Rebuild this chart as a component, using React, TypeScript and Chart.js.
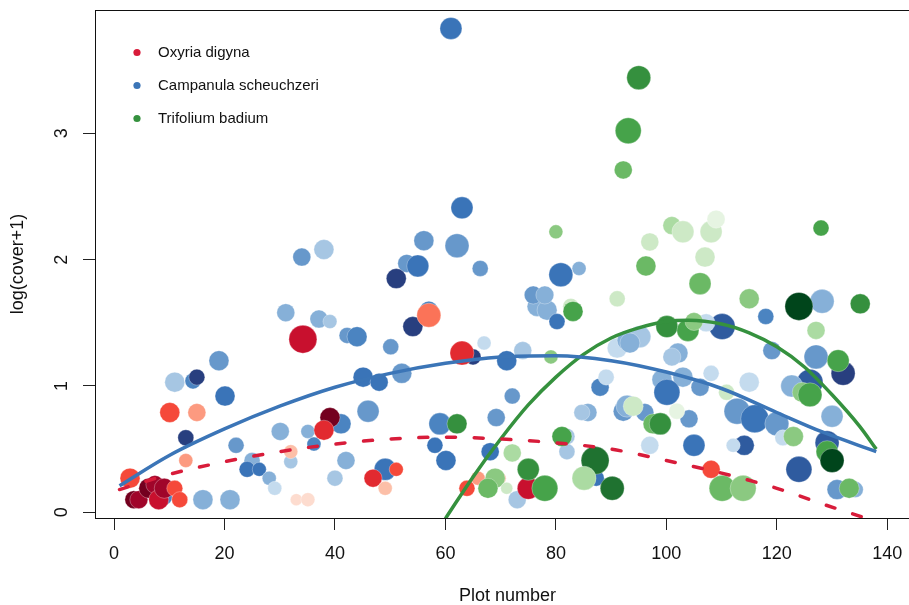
import React, { useEffect, useRef } from "react";
import { Chart, registerables } from "chart.js";

Chart.register(...registerables);

const FONT = "'Liberation Sans', Arial, Helvetica, sans-serif";

// axis ticks & labels
const xTicks = [0, 20, 40, 60, 80, 100, 120, 140];
const yTicks = [0, 1, 2, 3];
const xTitle = "Plot number";
const yTitle = "log(cover+1)";
const speciesNames = ["Oxyria digyna", "Campanula scheuchzeri", "Trifolium badium"];

// ---- Oxyria digyna (points) ----
const oxyriaX = [2.9, 3.6, 4.5, 6.3, 7.4, 8.1, 9.1, 11.0, 11.9, 10.1, 15.0, 13.0, 34.2, 32.0, 33.0, 35.1, 39.1, 38.0, 46.9, 51.1, 49.1, 57.0, 63.0, 63.9, 65.9, 69.9, 75.0, 108.1];
const oxyriaY = [0.27, 0.10, 0.10, 0.19, 0.22, 0.10, 0.19, 0.19, 0.10, 0.79, 0.79, 0.41, 1.37, 0.48, 0.10, 0.10, 0.75, 0.65, 0.27, 0.34, 0.19, 1.56, 1.26, 0.19, 0.27, 0.27, 0.19, 0.34];
const oxyriaSize = [10, 9, 9, 10, 9, 10, 10, 8, 8, 10, 9, 7, 14, 7, 6, 7, 10, 10, 9, 7, 7, 12, 12, 8, 7, 6, 11, 9];
const oxyriaShade = [4, 8, 7, 8, 7, 6, 7, 4, 4, 4, 2, 2, 6, 1, 0, 0, 8, 5, 5, 4, 1, 3, 5, 4, 2, 1, 6, 4];

// ---- Campanula scheuchzeri (points) ----
const campX = [61.0, 63.0, 62.1, 66.3, 34.0, 38.0, 56.1, 53.0, 55.0, 51.1, 31.1, 37.1, 39.1, 57.0, 54.1, 42.2, 44.0, 50.1, 52.1, 45.1, 48.0, 46.0, 41.1, 42.0, 40.0, 19.0, 11.0, 14.3, 15.0, 20.1, 13.0, 22.1, 30.1, 35.1, 36.2, 25.0, 24.1, 26.3, 28.1, 29.1, 32.0, 16.1, 21.0, 65.0, 67.0, 71.1, 74.0, 72.1, 59.0, 58.1, 60.1, 69.2, 68.1, 49.1, 73.0, 82.0, 82.0, 87.3, 76.6, 78.4, 80.2, 88.0, 89.1, 85.8, 84.7, 92.2, 91.1, 92.9, 80.9, 84.2, 75.9, 78.0, 95.2, 93.4, 102.1, 101.0, 110.1, 107.2, 118.0, 128.2, 119.1, 127.1, 132.0, 126.0, 122.7, 115.0, 108.1, 103.0, 99.2, 100.1, 106.1, 92.9, 96.1, 112.8, 116.0, 120.0, 121.1, 130.0, 104.1, 97.0, 105.0, 114.1, 112.1, 129.1, 124.0, 130.9, 134.2, 9.1];
const campY = [3.83, 2.41, 2.11, 1.93, 2.02, 2.08, 2.15, 1.97, 1.95, 1.85, 1.58, 1.53, 1.51, 1.60, 1.47, 1.40, 1.39, 1.31, 1.10, 1.07, 1.03, 0.80, 0.70, 0.41, 0.27, 1.20, 1.03, 1.04, 1.07, 0.92, 0.59, 0.53, 0.64, 0.64, 0.54, 0.41, 0.34, 0.34, 0.27, 0.19, 0.40, 0.10, 0.10, 1.23, 1.34, 1.20, 1.28, 0.92, 0.70, 0.53, 0.41, 0.75, 0.48, 0.34, 0.10, 0.60, 0.48, 0.27, 1.63, 1.60, 1.51, 0.99, 1.07, 0.79, 0.79, 0.80, 1.30, 1.36, 1.88, 1.93, 1.72, 1.72, 1.39, 1.34, 1.26, 1.23, 1.47, 1.50, 1.55, 1.67, 1.28, 1.23, 1.10, 1.03, 1.00, 1.03, 1.10, 1.07, 1.05, 0.95, 0.99, 0.84, 0.79, 0.80, 0.74, 0.70, 0.59, 0.76, 0.74, 0.53, 0.53, 0.53, 0.53, 0.55, 0.34, 0.18, 0.18, 0.12];
const campSize = [11, 11, 12, 8, 9, 10, 10, 9, 11, 10, 9, 9, 7, 9, 10, 8, 10, 8, 10, 10, 9, 11, 10, 9, 8, 10, 10, 8, 8, 10, 8, 8, 9, 7, 7, 8, 8, 7, 7, 7, 7, 10, 10, 8, 7, 10, 9, 8, 11, 8, 10, 9, 9, 11, 9, 8, 8, 8, 10, 10, 8, 9, 8, 9, 8, 10, 10, 10, 12, 7, 9, 9, 11, 10, 10, 9, 13, 9, 8, 12, 9, 12, 12, 13, 11, 10, 8, 10, 10, 13, 9, 11, 9, 13, 14, 12, 8, 11, 9, 9, 11, 10, 7, 12, 13, 10, 8, 8];
const campShade = [5, 5, 3, 3, 3, 1, 3, 3, 5, 7, 2, 2, 1, 4, 7, 3, 4, 3, 3, 5, 5, 3, 4, 2, 1, 3, 1, 4, 7, 5, 7, 3, 2, 2, 4, 2, 5, 5, 2, 0, 1, 2, 2, 7, 0, 5, 1, 3, 4, 5, 5, 3, 5, 5, 1, 1, 1, 5, 2, 2, 5, 4, 0, 2, 1, 3, 0, 2, 5, 2, 3, 2, 1, 2, 2, 1, 6, 0, 4, 2, 3, 3, 7, 6, 2, 0, 0, 2, 2, 5, 3, 2, 3, 3, 5, 3, 0, 2, 3, 0, 5, 6, 0, 6, 6, 3, 2, 4];

// ---- Trifolium badium (points) ----
const trifX = [95.0, 93.1, 92.2, 80.0, 101.0, 103.0, 108.1, 109.0, 97.0, 128.0, 96.3, 107.0, 106.1, 115.0, 91.1, 82.7, 124.0, 135.1, 83.1, 100.1, 103.9, 105.0, 127.1, 131.1, 124.6, 126.0, 110.9, 94.0, 97.6, 98.9, 101.9, 123.0, 129.1, 130.0, 110.1, 113.9, 133.1, 79.1, 62.1, 72.1, 75.0, 78.0, 69.0, 67.7, 71.1, 81.1, 87.1, 85.1, 90.2];
const trifY = [3.44, 3.02, 2.71, 2.22, 2.27, 2.22, 2.22, 2.32, 2.14, 2.25, 1.95, 2.02, 1.81, 1.69, 1.69, 1.63, 1.63, 1.65, 1.59, 1.47, 1.44, 1.51, 1.44, 1.20, 0.95, 0.93, 0.95, 0.84, 0.70, 0.70, 0.80, 0.60, 0.48, 0.41, 0.19, 0.19, 0.19, 1.23, 0.70, 0.47, 0.34, 0.19, 0.27, 0.19, 0.19, 0.60, 0.41, 0.27, 0.19];
const trifSize = [12, 13, 9, 7, 9, 11, 11, 9, 9, 8, 10, 10, 11, 10, 8, 8, 14, 10, 10, 11, 11, 9, 9, 11, 10, 12, 8, 10, 10, 11, 8, 10, 11, 12, 13, 13, 10, 7, 10, 9, 11, 13, 10, 10, 6, 10, 14, 12, 12];
const trifShade = [6, 5, 4, 3, 2, 1, 1, 0, 1, 5, 4, 1, 4, 3, 1, 1, 8, 6, 5, 6, 5, 3, 2, 5, 3, 5, 1, 1, 4, 6, 0, 3, 5, 8, 4, 3, 4, 3, 6, 2, 6, 5, 3, 4, 1, 5, 7, 2, 7];

// ---- fitted curves ----
const oxyriaFitX = [1, 10, 20, 30, 40, 50, 60, 70, 80, 90, 100, 110, 120, 128, 135.3];
const oxyriaFitY = [0.18, 0.30, 0.40, 0.48, 0.54, 0.58, 0.595, 0.58, 0.55, 0.50, 0.41, 0.31, 0.19, 0.07, -0.035];
const campFitX = [1, 10, 20, 30, 40, 50, 60, 70, 80, 90, 100, 110, 120, 128, 138];
const campFitY = [0.21, 0.45, 0.66, 0.84, 0.99, 1.10, 1.18, 1.23, 1.24, 1.20, 1.11, 0.98, 0.79, 0.64, 0.48];
const trifFitX = [60, 65, 70, 75, 80, 85, 90, 95, 100, 104, 110, 115, 120, 125, 130, 135, 138];
const trifFitY = [-0.05, 0.28, 0.58, 0.85, 1.07, 1.25, 1.38, 1.46, 1.51, 1.52, 1.49, 1.42, 1.31, 1.15, 0.93, 0.68, 0.5];

// palettes (styles)
const redShades = ["#fddccf", "#fcbfa8", "#fc9a80", "#fb7358", "#f5493a", "#e22a30", "#c8102e", "#a0052a", "#74001f"];
const blueShades = ["#c4dbee", "#a6c6e3", "#86b0d8", "#6798cb", "#4b84c1", "#3a74b8", "#2f5b9f", "#283f7f"];
const greenShades = ["#e6f4e2", "#cde9c6", "#abdba2", "#8bc981", "#6bb965", "#46a34a", "#35903e", "#1f7230", "#00451b"];
const lineColors = ["#d81c3a", "#3b75b7", "#35913e"];

function pts(xs: number[], ys: number[], rs?: number[]) {
  return xs.map((x, i) => (rs ? { x, y: ys[i], r: rs[i] } : { x, y: ys[i] }));
}

const boxPlugin = {
  id: "rbox",
  afterDatasetsDraw(chart: any) {
    const { ctx, chartArea } = chart;
    ctx.save();
    ctx.strokeStyle = "#111";
    ctx.lineWidth = 1;
    ctx.strokeRect(
      Math.round(chartArea.left) + 0.5,
      Math.round(chartArea.top) + 0.5,
      chartArea.right - chartArea.left,
      chartArea.bottom - chartArea.top
    );
    ctx.restore();
  },
};

const legendPlugin = {
  id: "rlegend",
  afterDraw(chart: any) {
    const { ctx } = chart;
    ctx.save();
    ctx.font = `15px ${FONT}`;
    ctx.textBaseline = "middle";
    ctx.textAlign = "left";
    speciesNames.forEach((name, i) => {
      const y = 52.5 + i * 33;
      ctx.fillStyle = lineColors[i];
      ctx.beginPath();
      ctx.arc(137, y, 3.6, 0, Math.PI * 2);
      ctx.fill();
      ctx.fillStyle = "#111";
      ctx.fillText(name, 158, y);
    });
    ctx.restore();
  },
};

// The R plot region continues past the right edge of the 909px picture,
// so the canvas is slightly wider and cropped by its container.
const CANVAS_W = 920;
const CANVAS_H = 605;

export default function App() {
  const ref = useRef<HTMLCanvasElement>(null);

  useEffect(() => {
    const canvas = ref.current!;
    const bubbleBase = {
      borderColor: "rgba(255,255,255,0.5)",
      borderWidth: 0.6,
      hoverRadius: 0,
    };
    const chart = new Chart(canvas, {
      type: "bubble",
      data: {
        datasets: [
          {
            type: "line",
            label: speciesNames[0] + " fit",
            data: pts(oxyriaFitX, oxyriaFitY),
            borderColor: lineColors[0],
            borderWidth: 3.5,
            borderDash: [9, 18.7],
            borderCapStyle: "round",
            pointRadius: 0,
            cubicInterpolationMode: "monotone",
            order: 0,
          } as any,
          {
            type: "line",
            label: speciesNames[1] + " fit",
            data: pts(campFitX, campFitY),
            borderColor: lineColors[1],
            borderWidth: 3.5,
            pointRadius: 0,
            cubicInterpolationMode: "monotone",
            order: 0,
          } as any,
          {
            type: "line",
            label: speciesNames[2] + " fit",
            data: pts(trifFitX, trifFitY),
            borderColor: lineColors[2],
            borderWidth: 3.5,
            pointRadius: 0,
            cubicInterpolationMode: "monotone",
            order: 0,
          } as any,
          {
            label: speciesNames[2],
            data: pts(trifX, trifY, trifSize),
            backgroundColor: trifShade.map((s) => greenShades[s]),
            ...bubbleBase,
            order: 1,
          } as any,
          {
            label: speciesNames[0],
            data: pts(oxyriaX, oxyriaY, oxyriaSize),
            backgroundColor: oxyriaShade.map((s) => redShades[s]),
            ...bubbleBase,
            order: 2,
          } as any,
          {
            label: speciesNames[1],
            data: pts(campX, campY, campSize),
            backgroundColor: campShade.map((s) => blueShades[s]),
            ...bubbleBase,
            order: 3,
          } as any,
        ],
      },
      options: {
        responsive: false,
        devicePixelRatio: 1,
        animation: false,
        events: [],
        layout: { autoPadding: false, padding: { top: 10, right: 0, bottom: 0, left: 0 } },
        plugins: {
          legend: { display: false },
          tooltip: { enabled: false },
        },
        scales: {
          x: {
            type: "linear",
            position: "bottom",
            min: -3.44,
            max: 145.92,
            afterFit: (s: any) => {
              s.height = 87;
              s.paddingLeft = 0;
              s.paddingRight = 0;
              s.paddingTop = 0;
              s.paddingBottom = 0;
            },
            afterBuildTicks: (s: any) => {
              s.ticks = xTicks.map((v) => ({ value: v }));
            },
            ticks: {
              autoSkip: false,
              maxRotation: 0,
              minRotation: 0,
              padding: 13,
              color: "#111",
              font: { family: FONT, size: 18 },
            },
            grid: {
              drawOnChartArea: false,
              drawTicks: true,
              tickLength: 12,
              color: "#222",
              lineWidth: 1,
            },
            border: { display: true, color: "#111", width: 1 },
            title: {
              display: true,
              text: xTitle,
              color: "#111",
              font: { family: FONT, size: 18 },
              padding: { top: 0, bottom: -2 },
            },
          },
          y: {
            type: "linear",
            position: "left",
            min: -0.0451,
            max: 3.976,
            afterFit: (s: any) => {
              s.width = 95;
              s.paddingLeft = 0;
              s.paddingRight = 0;
              s.paddingTop = 0;
              s.paddingBottom = 0;
            },
            afterBuildTicks: (s: any) => {
              s.ticks = yTicks.map((v) => ({ value: v }));
            },
            ticks: {
              autoSkip: false,
              minRotation: 90,
              maxRotation: 90,
              crossAlign: "center",
              padding: 16,
              color: "#111",
              font: { family: FONT, size: 18 },
            },
            grid: {
              drawOnChartArea: false,
              drawTicks: true,
              tickLength: 12,
              color: "#222",
              lineWidth: 1,
            },
            border: { display: true, color: "#111", width: 1 },
            title: {
              display: true,
              text: yTitle,
              color: "#111",
              font: { family: FONT, size: 18 },
              padding: { top: 7, bottom: 0 },
            },
          },
        },
      } as any,
      plugins: [boxPlugin, legendPlugin],
    });
    return () => chart.destroy();
  }, []);

  return (
    <div
      style={{
        position: "absolute",
        left: 0,
        top: 0,
        width: 909,
        height: 605,
        overflow: "hidden",
        background: "#fff",
      }}
    >
      <canvas
        ref={ref}
        width={CANVAS_W}
        height={CANVAS_H}
        style={{ display: "block", width: CANVAS_W, height: CANVAS_H }}
      />
    </div>
  );
}
